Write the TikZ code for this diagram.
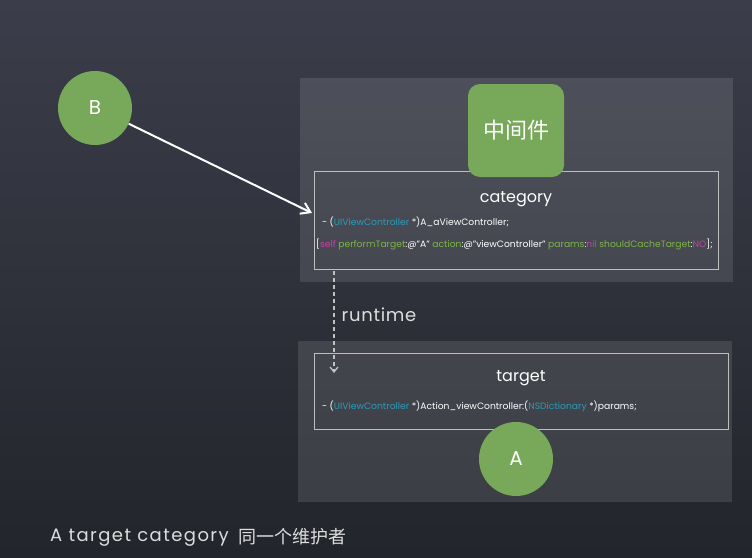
\documentclass[tikz,border=0pt]{standalone}
\usepackage{fontspec}
\setmainfont{Poppins}
\newfontfamily\cjk{Noto Sans CJK SC}
\usetikzlibrary{arrows.meta}
\definecolor{bgtop}{HTML}{3B3E4A}
\definecolor{bgbot}{HTML}{23252C}
\definecolor{chalkgreen}{HTML}{78A85A}
\definecolor{codeblue}{HTML}{2A9BB8}
\definecolor{codemag}{HTML}{C83EA8}
\definecolor{codegreen}{HTML}{7DB544}
\definecolor{chalk}{HTML}{EDEDED}
\tikzset{
  panel/.style={fill=white, fill opacity=0.11, draw=none},
  codebox/.style={draw=chalk!80!black, line width=0.6pt},
  ball/.style={circle, fill=chalkgreen, minimum size=74pt, inner sep=0pt, text=white, font=\fontsize{20}{20}\selectfont},
  title/.style={text=white, font=\fontsize{16}{16}\selectfont},
  code/.style={text=white, font=\fontsize{9.2}{10}\selectfont, anchor=west, inner sep=0pt},
}
\newcommand{\cb}[1]{\textcolor{codeblue}{#1}}
\newcommand{\cm}[1]{\textcolor{codemag}{#1}}
\newcommand{\cg}[1]{\textcolor{codegreen}{#1}}
\begin{document}
\begin{tikzpicture}[x=1pt,y=-1pt]
\useasboundingbox (0,0) rectangle (752,557);
\shade[top color=bgtop, bottom color=bgbot] (0,0) rectangle (752,557);
% panels
\fill[panel] (300,78) rectangle (733,282);
\fill[panel] (298,341) rectangle (732,502);
% boxes
\draw[codebox] (314,171) rectangle (718,269);
\draw[codebox] (314,353) rectangle (728,429);
% middleware
\node[fill=chalkgreen, rounded corners=12pt, minimum width=96pt, minimum height=93pt, text=white, font=\cjk\fontsize{22}{22}\selectfont] (mid) at (516,130.5) {中间件};
\node[title] (cat) at (516,199) {category};
\node[code] (c1) at (322,222) {- (\cb{UIViewController} *)A\_aViewController;};
\node[code] (c2) at (316,244) {[\cm{self} \cg{performTarget}:@"A" \cg{action}:@"viewController" \cg{params}:\cm{nil} \cg{shouldCacheTarget}:\cm{NO}];};
\node[title] (tgt) at (521,378) {target};
\node[code] (t1) at (322,406) {- (\cb{UIViewController} *)Action\_viewController:(\cb{NSDictionary} *)params;};
% balls
\node[ball] (A) at (516,459) {A};
\node[ball] (B) at (95,108) {B};
% arrows
\coordinate (catin) at (312,213);
\draw[white, line width=2pt, -{Straight Barb[length=9pt,width=12pt,line width=2pt]}] (B.-25) -- (catin);
\coordinate (rtop) at (334,271);
\coordinate (rbot) at (334,373);
\draw[chalk!60!gray, line width=1.3pt, dash pattern=on 4pt off 3pt, -{Straight Barb[length=5pt,width=8pt]}] (rtop) -- (rbot);
\node[text=chalk!85!gray, font=\fontsize{18}{18}\selectfont\addfontfeatures{LetterSpace=4}] (rt) at (379,315) {runtime};
\node[text=chalk!85!gray, font=\fontsize{18}{18}\selectfont\addfontfeatures{LetterSpace=8}, anchor=west, inner sep=0pt] (foot) at (50,538) {A target category};
\node[text=chalk!85!gray, font=\cjk\fontsize{18}{18}\selectfont, anchor=west, inner sep=0pt] (foot2) at (238,537) {同一个维护者};
\end{tikzpicture}
\end{document}
